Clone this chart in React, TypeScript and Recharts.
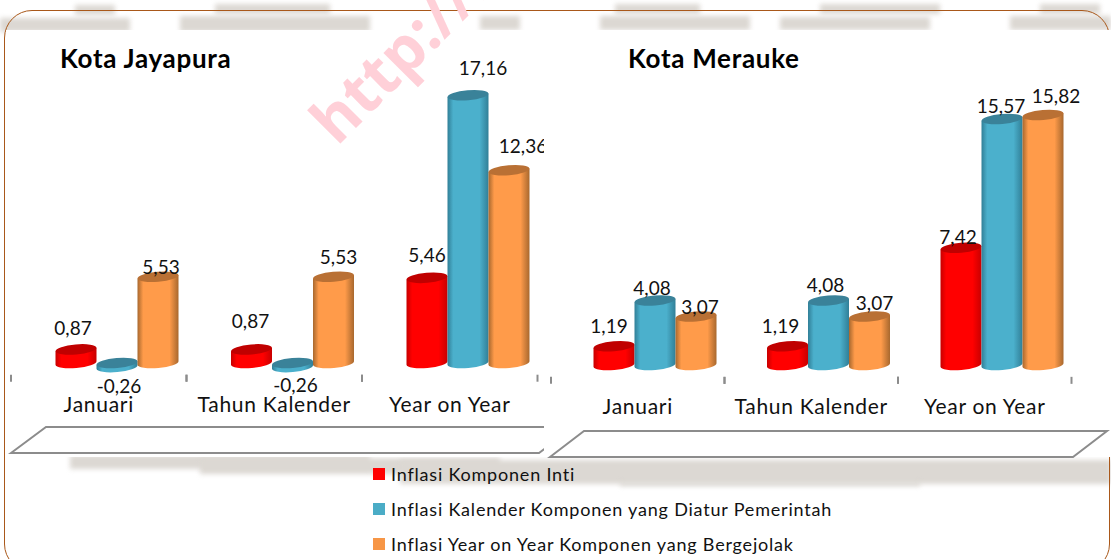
import React from "react"
import { BarChart, Bar, XAxis, YAxis, LabelList } from "recharts"

const categories = ["Januari", "Tahun Kalender", "Year on Year"]
const seriesNames = [
  "Inflasi Komponen Inti",
  "Inflasi Kalender Komponen yang Diatur Pemerintah",
  "Inflasi Year on Year Komponen yang Bergejolak",
]

const jayapuraInti = [0.87, 0.87, 5.46]
const jayapuraDiatur = [-0.26, -0.26, 17.16]
const jayapuraBergejolak = [5.53, 5.53, 12.36]

const meraukeInti = [1.19, 1.19, 7.42]
const meraukeDiatur = [4.08, 4.08, 15.57]
const meraukeBergejolak = [3.07, 3.07, 15.82]

const toRows = (a: number[], b: number[], c: number[]) =>
  categories.map((name, i) => ({ name, inti: a[i], diatur: b[i], bergejolak: c[i] }))

// label placement in the original is hand-dragged, so each label gets its own nudge
const jayapuraNudge = {
  inti: [[-3, -21], [-1, -28], [0, -23]],
  diatur: [[2, 23], [3, 22], [15, -27]],
  bergejolak: [[3, -10], [5, -20], [14, -24]],
}
const meraukeNudge = {
  inti: [[-5, -20], [-7, -20], [-3, -11]],
  diatur: [[-3, -13], [-3, -16], [-1, -13]],
  bergejolak: [[4, -9], [5, -13], [13, -19]],
}

const colors = {
  inti: { id: "red", main: "#ff0000", edge: "#c80000", top: "#c00000" },
  diatur: { id: "teal", main: "#4bb0cc", edge: "#317f97", top: "#3a8299" },
  bergejolak: { id: "orange", main: "#ff9b4a", edge: "#a8682e", top: "#b97034" },
}
const keys = ["inti", "diatur", "bergejolak"] as const

const FONT = "Lato, 'Open Sans', sans-serif"

function Cylinder(props: any) {
  const { x, y, width, height, tone } = props
  const top = Math.min(y, y + height)
  const bottom = Math.max(y, y + height)
  const rx = width / 2
  const ry = 5
  const t = 1.8
  const body = `M${x},${top + t} L${x},${bottom + t} A${rx},${ry} -5 0 0 ${x + width},${bottom - t} L${x + width},${top - t} Z`
  return (
    <g>
      <path d={body} fill={`url(#grad-${tone.id})`} />
      <ellipse
        cx={x + rx}
        cy={top}
        rx={rx}
        ry={ry}
        fill={tone.top}
        transform={`rotate(-5 ${x + rx} ${top})`}
      />
    </g>
  )
}

function Gradients() {
  return (
    <defs>
      {keys.map((k) => (
        <linearGradient key={k} id={`grad-${colors[k].id}`} x1="0" y1="0" x2="1" y2="0">
          <stop offset="0%" stopColor={colors[k].edge} />
          <stop offset="14%" stopColor={colors[k].main} />
          <stop offset="78%" stopColor={colors[k].main} />
          <stop offset="100%" stopColor={colors[k].edge} />
        </linearGradient>
      ))}
    </defs>
  )
}

function AxisTick(props: any) {
  const { x, y, payload } = props
  const half = props.band / 2
  return (
    <g>
      <line x1={x - half} x2={x - half} y1={y} y2={y + 7} stroke="#8c8c8c" strokeWidth={2} />
      <line x1={x + half} x2={x + half} y1={y} y2={y + 7} stroke="#8c8c8c" strokeWidth={2} />
      <text x={x} y={y + 37} textAnchor="middle" fontSize={21} letterSpacing={0.7} fontFamily={FONT} fill="#111">
        {payload.value}
      </text>
    </g>
  )
}

function barLabel(nudge: number[][]) {
  return (props: any) => {
    const { x, y, width, height, value, index } = props
    const [dx, dy] = nudge[index]
    const top = Math.min(y, y + height)
    return (
      <text
        x={x + width / 2 + dx}
        y={top + dy + 7}
        textAnchor="middle"
        fontSize={19}
        fontFamily={FONT}
        fill="#111"
      >
        {String(value).replace(".", ",")}
      </text>
    )
  }
}

function CityChart({ rows, nudge, width, marginLeft, marginRight, marginTop, plotHeight, shift, band }: any) {
  return (
    <BarChart
      width={width}
      height={440}
      data={rows}
      barSize={41}
      barGap={0}
      margin={{ top: marginTop, right: marginRight, left: marginLeft, bottom: 440 - marginTop - plotHeight - 60 }}
    >
      <Gradients />
      <YAxis hide domain={[-0.75, 18]} />
      <XAxis
        xAxisId="labels"
        dataKey="name"
        height={60}
        axisLine={false}
        tickLine={false}
        tickSize={0}
        tickMargin={0}
        interval={0}
        padding={{ left: 0, right: shift }}
        tick={<AxisTick band={band} />}
      />
      <XAxis xAxisId="bars" dataKey="name" hide height={0} padding={{ left: shift, right: 0 }} />
      {keys.map((k) => (
        <Bar
          key={k}
          xAxisId="bars"
          dataKey={k}
          isAnimationActive={false}
          shape={(p: any) => <Cylinder {...p} tone={colors[k]} />}
        >
          <LabelList dataKey={k} content={barLabel(nudge[k])} />
        </Bar>
      ))}
    </BarChart>
  )
}

// blurred grey patches left over from the slide background
const smudges = [
  [0, 18, 130, 14], [75, 5, 40, 10], [180, 16, 190, 16], [215, 4, 115, 10],
  [480, 16, 40, 14], [600, 16, 150, 14], [615, 4, 85, 10], [780, 17, 150, 13], [820, 4, 120, 10],
  [1010, 16, 101, 14], [1040, 4, 60, 10],
  [70, 455, 300, 14], [200, 458, 300, 16], [400, 460, 711, 24], [620, 482, 300, 4],
]

const absolute: React.CSSProperties = { position: "absolute" }
const titleStyle: React.CSSProperties = {
  ...absolute,
  top: 42,
  fontSize: 26,
  letterSpacing: 0.7,
  fontWeight: 700,
  lineHeight: "32px",
  color: "#000",
}

export default function App() {
  return (
    <div style={{ ...absolute, left: 0, top: 0, width: 1111, height: 559, overflow: "hidden", background: "#fff", fontFamily: FONT }}>
      {smudges.map(([left, top, width, height], i) => (
        <div
          key={i}
          style={{ ...absolute, left, top, width, height, background: "#dcd8d3", filter: "blur(2.5px)" }}
        />
      ))}
      <div
        style={{
          ...absolute,
          left: 4,
          top: 10,
          width: 1104,
          height: 560,
          border: "1.5px solid #a9581a",
          borderRadius: 28,
        }}
      />
      <div style={{ ...absolute, left: 6, top: 30, width: 1105, height: 427, background: "#fff" }} />

      <div
        style={{
          ...absolute,
          left: 342,
          top: 90,
          fontSize: 62,
          fontWeight: 700,
          color: "#ffd0d8",
          transform: "rotate(-45deg)",
          transformOrigin: "0 100%",
          whiteSpace: "nowrap",
          lineHeight: 1,
          fontFamily: "'Open Sans', sans-serif",
        }}
      >
        http://k
      </div>

      <svg style={{ ...absolute, left: 0, top: 0 }} width={1111} height={559}>
        <polygon points="550,457 584,431 1107,431 1073,457" fill="#fff" stroke="#8c8c8c" strokeWidth={2} />
      </svg>

      <div style={{ ...absolute, left: 0, top: 0, width: 544, height: 460, overflow: "hidden" }}>
        <svg style={{ ...absolute, left: 0, top: 0 }} width={600} height={460}>
          <polygon points="11,453 46,427 574,427 539,453" fill="#fff" stroke="#8c8c8c" strokeWidth={2} />
        </svg>
        <div style={{ ...absolute, left: 0, top: 0 }}>
          <CityChart
            rows={toRows(jayapuraInti, jayapuraDiatur, jayapuraBergejolak)}
            nudge={jayapuraNudge}
            width={570}
            marginLeft={11}
            marginRight={14}
            marginTop={82.2}
            plotHeight={292.5}
            shift={18.5}
            band={175.5}
          />
        </div>
      </div>
      <div style={{ ...absolute, left: 544, top: 0, width: 567, height: 440, overflow: "hidden" }}>
        <CityChart
          rows={toRows(meraukeInti, meraukeDiatur, meraukeBergejolak)}
          nudge={meraukeNudge}
          width={567}
          marginLeft={7}
          marginRight={22}
          marginTop={80.6}
          plotHeight={296.25}
          shift={17.5}
          band={173.5}
        />
      </div>

      <div style={{ ...titleStyle, left: 60 }}>Kota Jayapura</div>
      <div style={{ ...titleStyle, left: 628 }}>Kota Merauke</div>

      {seriesNames.map((name, i) => (
        <div key={name} style={{ ...absolute, left: 373, top: 464 + i * 35, height: 20, display: "flex", alignItems: "center" }}>
          <span style={{ width: 12, height: 12, marginRight: 6, background: [colors.inti.main, "#4bacc6", "#f79646"][i] }} />
          <span style={{ fontSize: 18, letterSpacing: 0.8, color: "#111", whiteSpace: "nowrap" }}>{name}</span>
        </div>
      ))}
    </div>
  )
}
